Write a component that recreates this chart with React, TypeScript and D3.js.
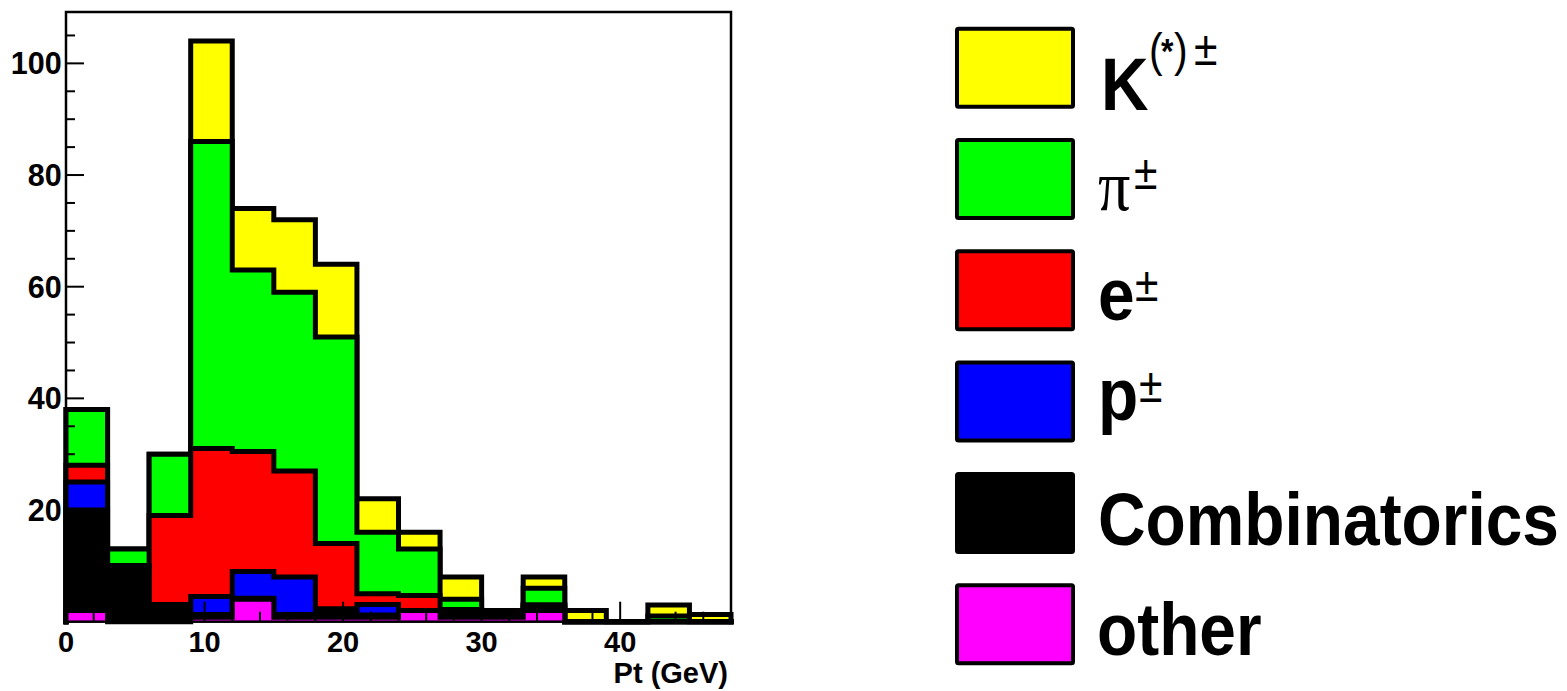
import React from 'react';
import * as d3 from 'd3';

// lower edge of each Pt bin (GeV), bins are 3 GeV wide
const binLow = [0, 3, 6, 9, 12, 15, 18, 21, 24, 27, 30, 33, 36, 39, 42, 45];
const binWidth = 3;

// entries per bin for each species (stacked bottom -> top: other, comb, p, e, pi, K)
const kaon = [0, 0, 0, 18, 11, 13, 13, 6, 3, 4, 0, 2, 2, 0, 2, 1.3];
const pion = [10, 3, 11, 55, 32.5, 32, 37, 11, 8.3, 1.8, 0, 3, 0, 0, 1, 0];
const elec = [3, 0, 15.9, 26.5, 21.5, 19, 11.7, 1.9, 2.7, 0.2, 0, 0, 0, 0, 0, 0];
const prot = [5, 0, 0.9, 3.2, 4.8, 6.7, 0.8, 1.9, 0, 0.2, 0.2, 0.5, 0, 0, 0, 0];
const comb = [18, 10, 2.2, 0.5, 0.2, 0.5, 0.7, 0.4, 0, 1, 1, 0.5, 0, 0, 0, 0];
const other = [2, 0, 0, 0.8, 4, 0.8, 0.8, 0.8, 2, 0.8, 0.8, 2, 0, 0, 0, 0];

const xTickLabels = [0, 10, 20, 30, 40];
const yTickLabels = [20, 40, 60, 80, 100];
const xTitle = 'Pt (GeV)';

const stackKeys = ['other', 'comb', 'p', 'e', 'pi', 'K'];
const colors: Record<string, string> = {
  K: '#ffff00',
  pi: '#00ff00',
  e: '#ff0000',
  p: '#0000ff',
  comb: '#000000',
  other: '#ff00ff',
};
const legendKeys = ['K', 'pi', 'e', 'p', 'comb', 'other'];

const sans = '"Liberation Sans", Arial, Helvetica, sans-serif';
const serif = '"Liberation Serif", "Times New Roman", serif';

function LText(props: { x: number; y: number; size: number; bold?: boolean; family?: string; sx?: number; children: React.ReactNode }) {
  const { x, y, size, bold, family, sx = 0.89, children } = props;
  return (
    <text
      transform={`translate(${x},${y}) scale(${sx},1)`}
      fontSize={size}
      fontWeight={bold ? 'bold' : 'normal'}
      fontFamily={family || sans}
      fill="#000"
    >
      {children}
    </text>
  );
}

export default function App() {
  const W = 1567, H = 691;
  const xMax = binLow[binLow.length - 1] + binWidth;
  const x = d3.scaleLinear().domain([0, xMax]).range([66, 731]);
  const y = d3.scaleLinear().domain([0, 109.2]).range([621.7, 12]);

  const table = binLow.map((lo, i) => ({
    lo,
    other: other[i],
    comb: comb[i],
    p: prot[i],
    e: elec[i],
    pi: pion[i],
    K: kaon[i],
  }));
  const series = d3.stack<any>().keys(stackKeys)(table);

  const line = d3
    .line<[number, number]>()
    .x(d => x(d[0]))
    .y(d => y(d[1]))
    .curve(d3.curveStepAfter);

  // THStack style: draw cumulative histos from the biggest down
  const layers = series
    .slice()
    .reverse()
    .map(s => {
      const pts: [number, number][] = [[0, 0]];
      s.forEach((d, i) => pts.push([binLow[i], d[1]]));
      pts.push([xMax, s[s.length - 1][1]]);
      pts.push([xMax, 0]);
      const d = line(pts) || '';
      return { key: s.key, d };
    });

  const xTicks = d3.range(2, xMax, 2);
  const yTicks = d3.range(5, 109, 5);

  const legTop = (i: number) => 26.7 + i * 111.3;

  return (
    <div style={{ position: 'absolute', left: 0, top: 0 }}>
      <svg width={W} height={H} style={{ display: 'block', background: '#fff' }}>
        <rect x={0} y={0} width={W} height={H} fill="#fff" />

        {layers.map(l => (
          <g key={l.key}>
            <path d={l.d + 'Z'} fill={colors[l.key]} stroke="none" />
            <path d={l.d} fill="none" stroke="#000" strokeWidth={5} strokeLinejoin="miter" strokeLinecap="square" />
          </g>
        ))}

        {/* ticks */}
        {xTicks.map(v => (
          <line key={'xt' + v} x1={x(v)} x2={x(v)} y1={y(0)} y2={y(0) - (v % 10 === 0 ? 20 : 10)} stroke="#000" strokeWidth={2} />
        ))}
        {yTicks.map(v => (
          <line key={'yt' + v} x1={x(0)} x2={x(0) + (v % 20 === 0 ? 18 : 9)} y1={y(v)} y2={y(v)} stroke="#000" strokeWidth={2} />
        ))}

        {/* frame */}
        <rect x={x(0)} y={y(109.2)} width={x(xMax) - x(0)} height={y(0) - y(109.2)} fill="none" stroke="#000" strokeWidth={2.5} />

        {/* tick labels */}
        {xTickLabels.map(v => (
          <text key={'xl' + v} x={x(v)} y={652} textAnchor="middle" fontFamily={sans} fontWeight="bold" fontSize={29}>
            {v}
          </text>
        ))}
        {yTickLabels.map(v => (
          <text key={'yl' + v} x={61.7} y={y(v) + 11} textAnchor="end" fontFamily={sans} fontWeight="bold" fontSize={30.5}>
            {v}
          </text>
        ))}
        <text x={728} y={683} textAnchor="end" fontFamily={sans} fontWeight="bold" fontSize={29}>
          {xTitle}
        </text>

        {/* legend */}
        {legendKeys.map((k, i) => (
          <rect key={'lb' + k} x={957} y={legTop(i) + 2} width={116} height={78} fill={colors[k]} stroke="#000" strokeWidth={4} rx={1.5} />
        ))}

        <LText x={1101} y={110} size={74} bold>K</LText>
        <LText x={1149} y={65.5} size={46}>(</LText>
        <LText x={1161} y={63} size={36} bold>*</LText>
        <LText x={1174} y={65.5} size={46}>)</LText>
        <LText x={1194} y={65} size={48}>±</LText>

        <LText x={1098} y={210} size={72} family={serif}>π</LText>
        <LText x={1134} y={189} size={48}>±</LText>

        <LText x={1098} y={320} size={74} bold>e</LText>
        <LText x={1135} y={301} size={48}>±</LText>

        <LText x={1098} y={420} size={74} bold>p</LText>
        <LText x={1139} y={402} size={48}>±</LText>

        <LText x={1098} y={545} size={74} bold>Combinatorics</LText>
        <LText x={1097} y={655} size={74} bold>other</LText>
      </svg>
    </div>
  );
}
